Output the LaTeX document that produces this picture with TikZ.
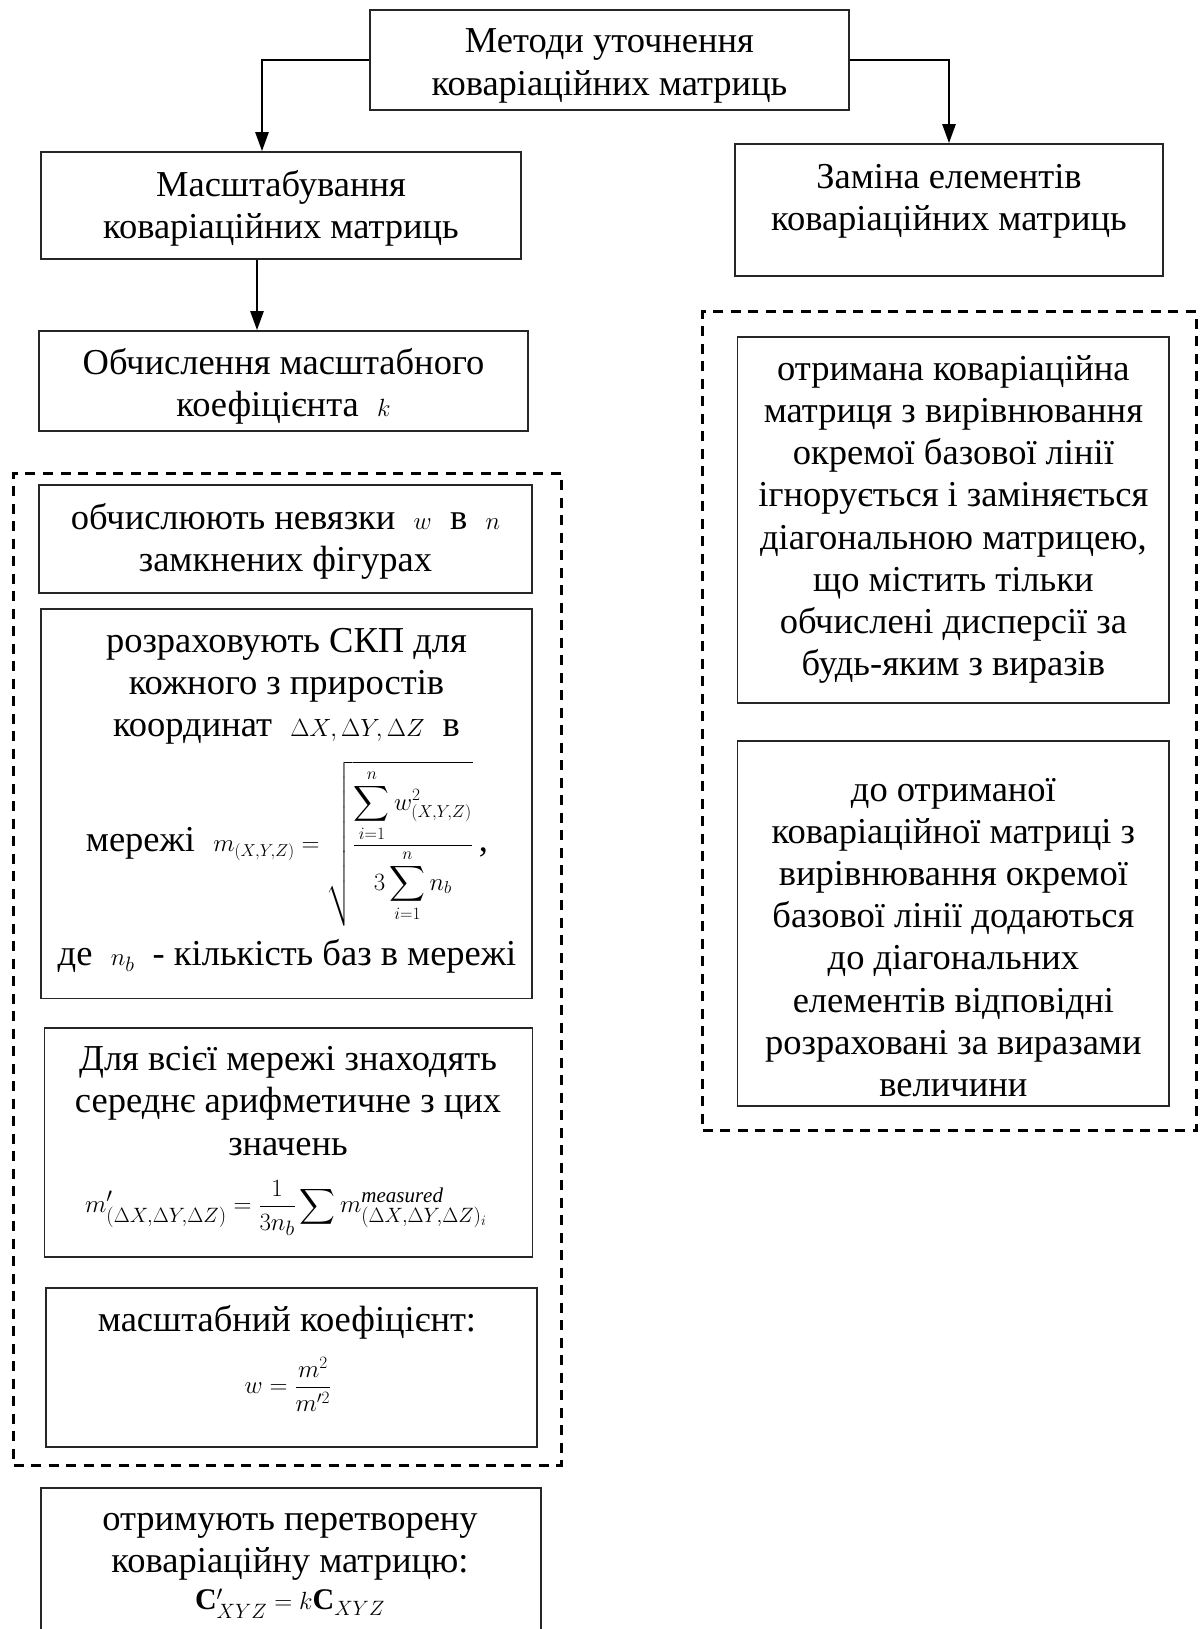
\documentclass[tikz,border=0pt]{standalone}
\usepackage{amsmath}
\usepackage{fontspec}
\setmainfont{Liberation Serif}
\usetikzlibrary{arrows.meta}
\newcommand{\mfs}{\fontsize{28}{30}\selectfont}
\newcommand{\sfs}{\fontsize{26}{28}\selectfont}
\begin{document}
\begin{tikzpicture}[x=1pt,y=-1pt,
  box/.style={draw=black!85, line width=1.6pt, inner sep=0pt},
  dbox/.style={draw=black, line width=3pt, dash pattern=on 10pt off 7.5pt, inner sep=0pt},
  txt/.style={align=center, inner sep=0pt, font=\fontsize{36.5}{42.2}\selectfont},
  conn/.style={draw=black, line width=2.4pt, -{Triangle[length=19pt,width=13pt]}}]
\useasboundingbox (0,0) rectangle (1199,1629);

% boxes
\node[box, minimum width=479pt, minimum height=100pt] (top) at (609.5,60) {};
\node[box, minimum width=480pt, minimum height=107pt] (masht) at (281,205.5) {};
\node[box, minimum width=428pt, minimum height=132pt] (zam) at (949,210) {};
\node[box, minimum width=489pt, minimum height=100pt] (obch) at (283.5,381) {};

\node[dbox, minimum width=547.5pt, minimum height=992pt] (ldash) at (287.25,969) {};
\node[box, minimum width=493pt, minimum height=108pt] (nev) at (285.5,539) {};
\node[box, minimum width=491pt, minimum height=389.5pt] (rozr) at (286.5,803.75) {};
\node[box, minimum width=488pt, minimum height=229pt] (dlya) at (288.5,1142.5) {};
\node[box, minimum width=491pt, minimum height=159pt] (koef) at (291.5,1367.5) {};
\node[box, minimum width=500pt, minimum height=160pt] (otr) at (291,1568) {};

\node[dbox, minimum width=493.5pt, minimum height=818.5pt] (rdash) at (949.5,721) {};
\node[box, minimum width=431.5pt, minimum height=366.5pt] (ign) at (953.4,520) {};
\node[box, minimum width=431.5pt, minimum height=365pt] (dod) at (953.4,923.5) {};

% texts
\node[txt] (top-t) at (609.5,66) {Методи уточнення\\коваріаційних матриць};
\node[txt] (masht-t) at (281,208) {Масштабування\\коваріаційних матриць};
\node[txt] (zam-t) at (949,201) {Заміна елементів\\коваріаційних матриць};
\node[txt] (obch-t) at (283.5,386.5) {Обчислення масштабного\\коефіцієнта\ \ {\mfs$k$}};

\node[txt] (nev-t) at (285.5,541) {обчислюють невязки\ \ {\mfs$w$}\ \ в\ \ {\mfs$n$}\\замкнених фігурах};
\node[txt] (rozr-t1) at (286.5,686) {розраховують СКП для\\кожного з приростів\\координат\ \ {\mfs$\Delta X,\Delta Y,\Delta Z$}\ \ в};
\node[txt] (rozr-t2) at (287,844) {мережі\ \ {\fontsize{27}{29}\selectfont$m_{(X,Y,Z)}=\sqrt{\dfrac{\displaystyle\sum_{i=1}^{n}w^{2}_{(X,Y,Z)}}{\displaystyle 3\sum_{i=1}^{n}n_b}}$}\,,};
\node[txt] (rozr-t3) at (287,956) {де\ \ {\mfs$n_b$}\ \ - кількість баз в мережі};

\node[txt] (dlya-t1) at (288,1101) {Для всієї мережі знаходять\\середнє арифметичне з цих\\значень};
\node[txt] (dlya-t2) at (286,1208) {\fontsize{30}{32}\selectfont$\displaystyle m'_{(\Delta X,\Delta Y,\Delta Z)}=\frac{1}{3n_b}\sum m^{\mathit{measured}}_{(\Delta X,\Delta Y,\Delta Z)_i}$};

\node[txt] (koef-t1) at (287,1322.5) {масштабний коефіцієнт:};
\node[txt] (koef-t2) at (288,1384) {\sfs$\displaystyle w=\frac{m^{2}}{m'^{2}}$};

\node[txt] (otr-t1) at (290,1547) {отримують перетворену\\коваріаційну матрицю:};
\node[txt] (otr-t2) at (290,1604) {\fontsize{30}{32}\selectfont$\mathbf{C}'_{XYZ}=k\mathbf{C}_{XYZ}$};

\node[txt] (ign-t) at (953.4,519.5) {отримана коваріаційна\\матриця з вирівнювання\\окремої базової лінії\\ігнорується і заміняється\\діагональною матрицею,\\що містить тільки\\обчислені дисперсії за\\будь-яким з виразів};
\node[txt] (dod-t) at (953.4,937.5) {до отриманої\\коваріаційної матриці з\\вирівнювання окремої\\базової лінії додаються\\до діагональних\\елементів відповідні\\розраховані за виразами\\величини};

% connectors
\draw[conn] (top.west) -| ([xshift=-19pt]masht.north);
\draw[conn] (top.east) -| (zam.north);
\draw[conn] ([xshift=-24pt]masht.south) -- ([xshift=-24pt]masht.south |- obch.north);
\end{tikzpicture}
\end{document}
